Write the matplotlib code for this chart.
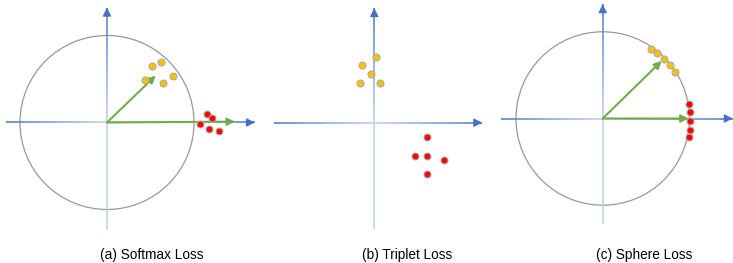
import numpy as np
import matplotlib.pyplot as plt
from matplotlib.collections import LineCollection
from matplotlib.colors import to_rgb
from matplotlib.patches import Circle

plt.rcParams["font.family"] = ["Liberation Sans", "DejaVu Sans"]

W, H = 733, 263
fig = plt.figure(figsize=(W / 100, H / 100), dpi=100)

# ---- data (units: circle radius = 1) ----
# (a) softmax loss
soft_yellow_x = [0.52, 0.62, 0.44, 0.64, 0.755]
soft_yellow_y = [0.65, 0.69, 0.49, 0.45, 0.53]
soft_red_x = [1.146, 1.21, 1.066, 1.172, 1.284]
soft_red_y = [0.099, 0.046, -0.016, -0.074, -0.097]
soft_centers_x = [0.56, 1.47]
soft_centers_y = [0.54, 0.01]

# (b) triplet loss
trip_yellow_x = [0.02, -0.21, -0.06, -0.24, 0.10]
trip_yellow_y = [1.10, 0.96, 0.81, 0.66, 0.66]
trip_red_x = [0.88, 0.67, 0.87, 1.16, 0.87]
trip_red_y = [-0.24, -0.56, -0.55, -0.63, -0.86]

# (c) sphere loss
sph_yellow_x = [0.554, 0.630, 0.707, 0.773, 0.837]
sph_yellow_y = [0.807, 0.757, 0.684, 0.618, 0.537]
sph_red_x = [0.990, 1.005, 1.012, 1.003, 0.990]
sph_red_y = [0.173, 0.073, -0.028, -0.127, -0.216]
sph_centers_x = [0.68, 0.99]
sph_centers_y = [0.664, 0.0]

labels = ["(a) Softmax Loss", "(b) Triplet Loss", "(c) Sphere Loss"]

BLUE = "#4472C4"
PALE = "#BDD0EE"
GREEN = "#70AD47"
YELLOW = "#FFC000"
RED = "#FF0000"
EDGE = "#ABABAB"


def panel(left, width, ox, oy, scale):
    # ox, oy: origin in pixels (oy measured from top)
    ax = fig.add_axes([left / W, 0, width / W, 1])
    yb = H - oy
    ax.set_xlim((left - ox) / scale, (left + width - ox) / scale)
    ax.set_ylim(-yb / scale, (H - yb) / scale)
    ax.axis("off")
    return ax


def grad_line(ax, p0, p1, c0, c1, n=60):
    t = np.linspace(0, 1, n + 1)
    xs = p0[0] + (p1[0] - p0[0]) * t
    ys = p0[1] + (p1[1] - p0[1]) * t
    pts = np.column_stack([xs, ys])
    segs = np.stack([pts[:-1], pts[1:]], axis=1)
    c0, c1 = np.array(to_rgb(c0)), np.array(to_rgb(c1))
    tm = (t[:-1] + t[1:]) / 2
    cols = [tuple((1 - s) * c0 + s * c1) for s in tm]
    ax.add_collection(LineCollection(segs, colors=cols, linewidths=1.1, zorder=2))


def axes_cross(ax, xl, xr, yb, yt):
    grad_line(ax, (xl, 0), (0, 0), BLUE, PALE)
    grad_line(ax, (0, 0), (xr, 0), PALE, BLUE)
    grad_line(ax, (0, yb), (0, 0), PALE, PALE)
    grad_line(ax, (0, 0), (0, yt), PALE, BLUE)
    for tip, back in [((xr, 0), (xr - 0.05, 0)), ((0, yt), (0, yt - 0.05))]:
        ax.annotate("", xy=tip, xytext=back,
                    arrowprops=dict(arrowstyle="-|>", color=BLUE, lw=0.8,
                                    mutation_scale=13, shrinkA=0, shrinkB=0),
                    zorder=3)


def green_arrows(ax, xs, ys):
    for x, y in zip(xs, ys):
        ax.annotate("", xy=(x, y), xytext=(0, 0),
                    arrowprops=dict(arrowstyle="-|>", color=GREEN, lw=1.5,
                                    mutation_scale=11, shrinkA=0, shrinkB=0),
                    zorder=4)


def dots(ax, xs, ys, color):
    ax.plot(xs, ys, "o", color=color, markersize=5, markeredgecolor=EDGE,
            markeredgewidth=0.8, zorder=5, clip_on=False)


# (a)
ax1 = panel(0, 262, 107, 122.5, 87)
ax1.add_patch(Circle((0, 0), 1, fill=False, ec="#999999", lw=0.9, zorder=1))
axes_cross(ax1, -1.16, 1.70, -1.23, 1.32)
green_arrows(ax1, soft_centers_x, soft_centers_y)
dots(ax1, soft_yellow_x, soft_yellow_y, YELLOW)
dots(ax1, soft_red_x, soft_red_y, RED)

# (b)
ax2 = panel(262, 230, 374.3, 122.7, 60)
axes_cross(ax2, -1.68, 1.80, -1.77, 1.91)
dots(ax2, trip_yellow_x, trip_yellow_y, YELLOW)
dots(ax2, trip_red_x, trip_red_y, RED)

# (c)
ax3 = panel(492, 241, 602.7, 118.5, 86.7)
ax3.add_patch(Circle((0, 0), 1, fill=False, ec="#999999", lw=0.9, zorder=1))
axes_cross(ax3, -1.173, 1.50, -1.219, 1.318)
green_arrows(ax3, sph_centers_x, sph_centers_y)
dots(ax3, sph_yellow_x, sph_yellow_y, YELLOW)
dots(ax3, sph_red_x, sph_red_y, RED)

for xc, lab in zip([152, 407, 644], labels):
    fig.text(xc / W, 4 / H, lab, ha="center", va="baseline", fontsize=9.8)

fig.savefig("out.png", dpi=100)
